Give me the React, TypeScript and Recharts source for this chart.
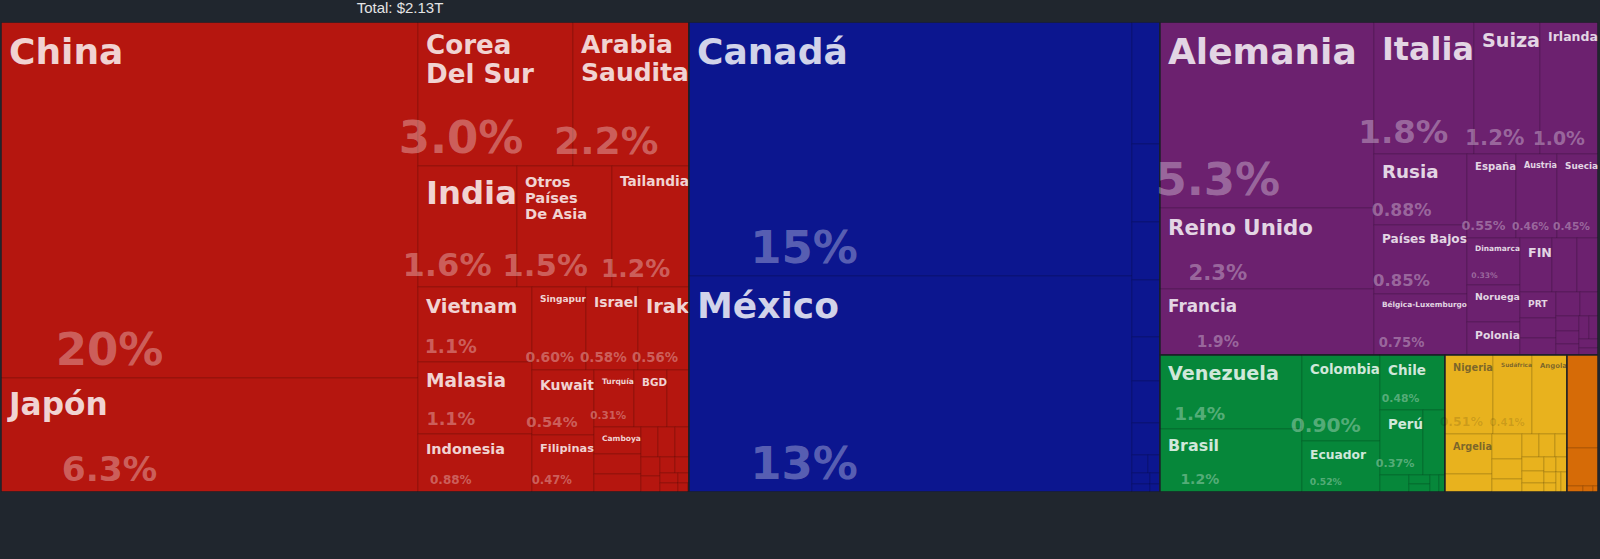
import React from "react";
import { Treemap } from "recharts";

// Import values by origin, billions of USD
const asiaNames = ["China", "Japón", "Corea Del Sur", "Arabia Saudita", "India", "Otros Países De Asia", "Tailandia", "Vietnam", "Malasia", "Indonesia", "Singapur", "Israel", "Irak", "Kuwait", "Filipinas", "Turquía", "BGD", "Pakistán", "Camboya", "Hong Kong", "Sri Lanka", "Emiratos Árabes Unidos", "Jordania", "Kazajistán", "Qatar", "Omán", "Macao", "Azerbaiyán", "Mongolia", "Nepal", "Laos", "Líbano", "Brunéi", "Georgia"];
const asiaValues = [421.5, 135.0, 63.3, 47.7, 33.9, 32.8, 26.2, 24.3, 23.4, 18.75, 12.8, 12.35, 11.95, 11.42, 10.1, 6.52, 5.33, 3.62, 3.58, 2.66, 2.41, 1.49, 1.47, 1.15, 1.02, 0.87, 0.66, 0.64, 0.53, 0.43, 0.32, 0.26, 0.21, 0.17];

const northAmericaNames = ["Canadá", "México", "Costa Rica", "Trinidad y Tobago", "Honduras", "Guatemala", "República Dominicana", "El Salvador", "Nicaragua", "Haití", "Panamá", "Bahamas", "Jamaica", "Aruba", "Barbados"];
const northAmericaValues = [319.9, 271.9, 9.69, 6.2, 4.6, 4.54, 3.49, 3.34, 2.53, 0.81, 0.62, 0.55, 0.4, 0.3, 0.26];

const europeNames = ["Alemania", "Reino Unido", "Francia", "Italia", "Suiza", "Irlanda", "Rusia", "Países Bajos", "Bélgica-Luxemburgo", "España", "Austria", "Suecia", "Dinamarca", "Noruega", "Polonia", "FIN", "Hungría", "República Checa", "PRT", "Ucrania", "Eslovaquia", "Grecia", "Rumanía", "Lituania", "Eslovenia", "Estonia", "Bulgaria", "Croacia", "Letonia", "Bielorrusia", "Serbia", "Islandia", "Malta", "Chipre"];
const europeValues = [112.9, 49.2, 40.0, 37.5, 24.7, 21.7, 18.75, 18.1, 16.0, 11.7, 9.8, 9.6, 7.03, 5.6, 4.92, 4.88, 3.83, 3.22, 2.7, 2.04, 1.75, 1.64, 1.19, 0.96, 0.85, 0.75, 0.64, 0.6, 0.51, 0.43, 0.34, 0.26, 0.19, 0.09];

const southAmericaNames = ["Venezuela", "Brasil", "Colombia", "Ecuador", "Chile", "Perú", "Argentina", "Bolivia", "Uruguay", "Guyana", "Surinam", "Paraguay"];
const southAmericaValues = [29.8, 25.6, 19.12, 11.15, 10.15, 7.88, 4.05, 1.41, 0.53, 0.47, 0.43, 0.3];

const africaNames = ["Nigeria", "Sudáfrica", "Angola", "Argelia", "Egipto", "Guinea Ecuatorial", "Chad", "Costa de Marfil", "Gabón", "Marruecos", "Congo", "Ghana", "Túnez", "Kenia", "Etiopía", "Madagascar", "Camerún", "Lesoto", "Mauricio", "Namibia"];
const africaValues = [10.86, 8.73, 7.88, 5.33, 2.41, 2.13, 1.7, 1.19, 1.09, 1.02, 0.89, 0.85, 0.75, 0.64, 0.53, 0.43, 0.38, 0.32, 0.26, 0.21];

const oceaniaNames = ["Australia", "Nueva Zelanda", "Papúa Nueva Guinea", "Fiyi", "Samoa"];
const oceaniaValues = [8.18, 3.34, 0.28, 0.17, 0.09];

const regions = ["Asia", "Norteamérica", "Europa", "Sudamérica", "África", "Oceanía"];
const countryNames = [asiaNames, northAmericaNames, europeNames, southAmericaNames, africaNames, oceaniaNames];
const countryValues = [asiaValues, northAmericaValues, europeValues, southAmericaValues, africaValues, oceaniaValues];

const regionColors: Record<string, string> = {
  Asia: "#b5160f",
  Norteamérica: "#0c168f",
  Europa: "#6c216f",
  Sudamérica: "#06873a",
  África: "#e8b21e",
  Oceanía: "#d66b07",
};
const lightRegions = ["África", "Oceanía"];

const treeData = regions.map((region, i) => ({
  name: region,
  region,
  children: countryNames[i]
    .map((name, j) => ({ name, region, value: countryValues[i][j] }))
    .sort((a, b) => b.value - a.value),
}));

const total = countryValues.flat().reduce((s, v) => s + v, 0);

const fmtShare = (v: number) => {
  const p = (v / total) * 100;
  return (p >= 10 ? p.toFixed(0) : p.toPrecision(2)) + "%";
};

let ctx: CanvasRenderingContext2D | null = null;
function em(text: string) {
  if (!ctx) ctx = document.createElement("canvas").getContext("2d");
  if (!ctx) return text.length * 0.65;
  ctx.font = "bold 100px 'DejaVu Sans'";
  return ctx.measureText(text).width / 100;
}

function splitWords(words: string[], n: number): string[] {
  let best: string[] = [words.join(" ")];
  let bestW = Infinity;
  const rec = (start: number, left: number, acc: string[]) => {
    if (left === 1) {
      const lines = [...acc, words.slice(start).join(" ")];
      const m = Math.max(...lines.map(em));
      if (m < bestW) {
        bestW = m;
        best = lines;
      }
      return;
    }
    for (let k = start + 1; k <= words.length - (left - 1); k++) {
      rec(k, left - 1, [...acc, words.slice(start, k).join(" ")]);
    }
  };
  rec(0, n, []);
  return best;
}

function fitName(name: string, w: number, h: number, withPct: boolean) {
  const avail = w - 8;
  let best = { lines: [name], size: Math.min(36, avail / em(name), withPct ? 0.3 * h - 3 : 0.35 * h) };
  if (w < 40) return best;
  const words = name.split(" ");
  for (let n = 2; n <= 3 && n <= words.length; n++) {
    const lines = splitWords(words, n);
    const maxEm = Math.max(...lines.map(em));
    const size = Math.min(36, avail / maxEm, ((withPct ? 0.4 : 0.8) * h) / (n * 1.1));
    if (size > best.size * 1.15) best = { lines, size };
  }
  return best;
}

const groupBoxes: Record<string, { x: number; y: number; w: number; h: number }> = {};

function TreeCell(props: any) {
  const { x, y, width: w, height: h, depth, name, region, value } = props;
  if (!depth || !w || !h) return <g />;
  const color = regionColors[region];
  if (depth === 1) {
    groupBoxes[region] = { x, y, w, h };
    return <rect x={x} y={y} width={w} height={h} fill={color} />;
  }
  const light = lightRegions.includes(region);
  const share = fmtShare(value);
  const pctSize = Math.min(45, (0.9 * w) / em(share), (h - 28) * 0.4);
  const showPct = w >= 36 && pctSize >= 6;
  const label = fitName(name, w, h, showPct);
  const showName = w > 31 && h >= 24 && label.size >= 5.5;

  const g = groupBoxes[region];
  const edgeStroke = "#1c2029";
  const edges: React.ReactNode[] = [];
  if (g) {
    if (Math.abs(x - g.x) < 0.5) edges.push(<line key="l" x1={x} y1={y} x2={x} y2={y + h} stroke={edgeStroke} strokeWidth={1.4} />);
    if (Math.abs(x + w - g.x - g.w) < 0.5) edges.push(<line key="r" x1={x + w} y1={y} x2={x + w} y2={y + h} stroke={edgeStroke} strokeWidth={1.4} />);
    if (Math.abs(y - g.y) < 0.5) edges.push(<line key="t" x1={x} y1={y} x2={x + w} y2={y} stroke={edgeStroke} strokeWidth={1.4} />);
    if (Math.abs(y + h - g.y - g.h) < 0.5) edges.push(<line key="b" x1={x} y1={y + h} x2={x + w} y2={y + h} stroke={edgeStroke} strokeWidth={1.4} />);
  }

  return (
    <g>
      <rect x={x} y={y} width={w} height={h} fill={color} stroke="rgba(0,0,0,0.16)" strokeWidth={1} />
      {edges}
      {showName && (
        <text
          fontFamily="'DejaVu Sans'"
          fontWeight="bold"
          fontSize={label.size}
          fill={light ? "#333" : "#fff"}
          fillOpacity={light ? 0.6 : 0.82}
        >
          {label.lines.map((line, i) => (
            <tspan key={i} x={x + 8} y={y + 6 + label.size + i * label.size * 1.1}>
              {line}
            </tspan>
          ))}
        </text>
      )}
      {showPct && (
        <text
          x={x + 0.25 * w + 4.3}
          y={y + h - (6 + 0.15 * pctSize)}
          textAnchor="middle"
          fontFamily="'DejaVu Sans'"
          fontWeight="bold"
          fontSize={pctSize}
          fill={light ? "#000" : "#fff"}
          fillOpacity={light ? 0.13 : 0.33}
        >
          {share}
        </text>
      )}
    </g>
  );
}

export default function App() {
  return (
    <div style={{ position: "absolute", left: 0, top: 0, width: 1600, height: 559, background: "#20262e", overflow: "hidden" }}>
      <div
        style={{
          position: "absolute",
          left: 0,
          top: -1,
          width: 800,
          textAlign: "center",
          fontFamily: "'Liberation Sans', Arial, sans-serif",
          fontSize: 15,
          lineHeight: "17px",
          color: "#e4e4e4",
        }}
      >
        {`Total: $${(total / 1000).toFixed(2)}T`}
      </div>
      <div style={{ position: "absolute", left: 1, top: 22 }}>
        <Treemap
          width={1597}
          height={470}
          data={treeData}
          dataKey="value"
          isAnimationActive={false}
          content={<TreeCell />}
        />
      </div>
    </div>
  );
}
